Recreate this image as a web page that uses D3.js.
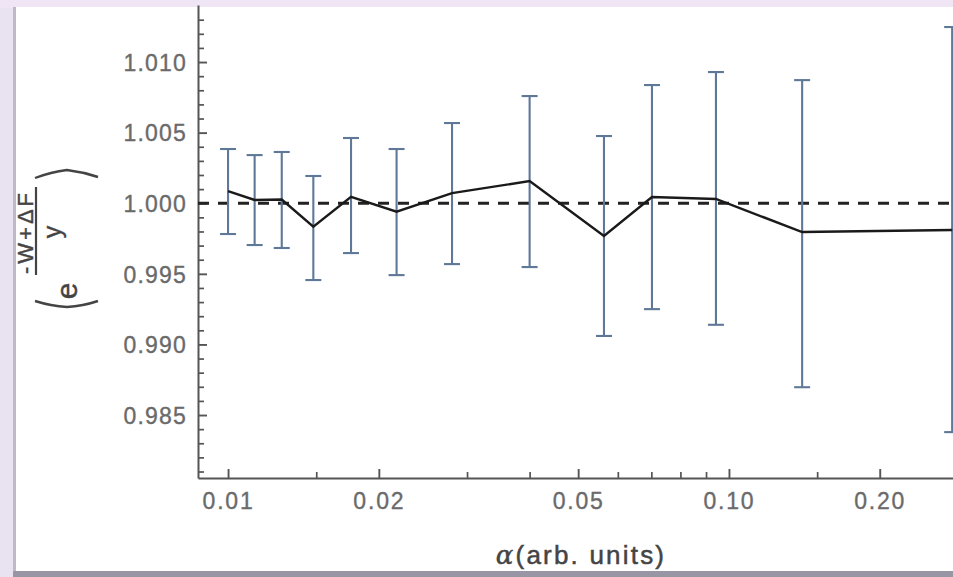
<!DOCTYPE html>
<html><head><meta charset="utf-8">
<script src="https://cdn.jsdelivr.net/npm/d3@7"></script>
<style>
html,body{margin:0;padding:0;background:#ebe5f2;overflow:hidden;}
svg{display:block;}
text{font-family:"Liberation Sans", Arial, sans-serif;}
</style></head><body>
<svg id="chart" width="953" height="577"></svg>
<script>
// ---- data ----
const alphaValues = [0.0100, 0.0113, 0.0128, 0.0148, 0.0176, 0.0217, 0.0280, 0.0400, 0.0563, 0.0702, 0.0942, 0.1400, 0.2790];
const meanValues  = [1.00086, 1.00023, 1.00026, 0.99834, 1.00046, 0.99940, 1.00072, 1.00157, 0.99768, 1.00044, 1.00030, 0.99796, 0.99810];
const upperValues = [1.00384, 1.00341, 1.00363, 1.00193, 1.00462, 1.00384, 1.00568, 1.00759, 1.00476, 1.00837, 1.00929, 1.00872, 1.01248];
const lowerValues = [0.99782, 0.99704, 0.99683, 0.99456, 0.99647, 0.99491, 0.99569, 0.99548, 0.99060, 0.99250, 0.99139, 0.98697, 0.98379];
const referenceLevel = 1.000;

const xTickValues = [0.01, 0.02, 0.05, 0.10, 0.20];
const xTickLabels = ["0.01", "0.02", "0.05", "0.10", "0.20"];
const xMinorTicks = [0.015, 0.03, 0.04, 0.06, 0.07, 0.08, 0.09, 0.15];
const yTickValues = [0.985, 0.990, 0.995, 1.000, 1.005, 1.010];
const yTickLabels = ["0.985", "0.990", "0.995", "1.000", "1.005", "1.010"];
const yMinorTicks = [0.981, 0.982, 0.983, 0.984, 0.986, 0.987, 0.988, 0.989, 0.991, 0.992, 0.993, 0.994,
                     0.996, 0.997, 0.998, 0.999, 1.001, 1.002, 1.003, 1.004, 1.006, 1.007, 1.008, 1.009,
                     1.011, 1.012, 1.013];
const xDomain = [0.00871, 0.2866];
const yDomain = [0.98054, 1.01404];
const xAxisTitle = "(arb. units)";
const xAxisSymbol = "α";

// ---- layout ----
const W = 953, H = 577;
const plot = {left: 198, right: 958, top: 5, bottom: 478};

const svg = d3.select("#chart");

// frame / background imitation
svg.append("rect").attr("x", 0).attr("y", 0).attr("width", W).attr("height", H).attr("fill", "#e9e3f1");
svg.append("rect").attr("x", 0).attr("y", 0).attr("width", W).attr("height", 8).attr("fill", "#efe5f4");
svg.append("rect").attr("x", 13).attr("y", 7).attr("width", W - 13).attr("height", H - 7).attr("fill", "#bdb9c6");
svg.append("rect").attr("x", 16).attr("y", 7).attr("width", W - 16).attr("height", 564).attr("fill", "#ffffff");
svg.append("rect").attr("x", 13).attr("y", 571).attr("width", W - 13).attr("height", 6).attr("fill", "#9896a4");

const x = d3.scaleLog().domain(xDomain).range([plot.left, plot.right]);
const y = d3.scaleLinear().domain(yDomain).range([plot.bottom, plot.top]);

const axisColor = "#555555";
const labelColor = "#6a6a6a";

// Y axis (minor then major)
const gyMinor = svg.append("g").attr("transform", `translate(${plot.left},0)`)
  .call(d3.axisLeft(y).tickValues(yMinorTicks).tickSizeInner(-6).tickSizeOuter(0).tickFormat(""));
gyMinor.select(".domain").remove();
gyMinor.selectAll("line").attr("stroke", axisColor).attr("stroke-width", 1.7);

const gy = svg.append("g").attr("transform", `translate(${plot.left},0)`)
  .call(d3.axisLeft(y).tickValues(yTickValues).tickSizeInner(-9).tickSizeOuter(0).tickPadding(11)
        .tickFormat((d, i) => yTickLabels[i]));
gy.select(".domain").attr("stroke", axisColor).attr("stroke-width", 2);
gy.selectAll("line").attr("stroke", axisColor).attr("stroke-width", 1.9);
gy.selectAll("text").attr("fill", labelColor).attr("stroke", labelColor).attr("stroke-width", 0.35)
  .style("font-size", "23px").style("letter-spacing", "1.2px").attr("dy", "0.36em");

// X axis
const gxMinor = svg.append("g").attr("transform", `translate(0,${plot.bottom})`)
  .call(d3.axisBottom(x).tickValues(xMinorTicks).tickSizeInner(-6).tickSizeOuter(0).tickFormat(""));
gxMinor.select(".domain").remove();
gxMinor.selectAll("line").attr("stroke", axisColor).attr("stroke-width", 1.7);

const gx = svg.append("g").attr("transform", `translate(0,${plot.bottom})`)
  .call(d3.axisBottom(x).tickValues(xTickValues).tickSizeInner(-9).tickSizeOuter(0).tickPadding(15)
        .tickFormat((d, i) => xTickLabels[i]));
gx.select(".domain").attr("stroke", axisColor).attr("stroke-width", 2);
gx.selectAll("line").attr("stroke", axisColor).attr("stroke-width", 1.9);
gx.selectAll("text").attr("fill", labelColor).attr("stroke", labelColor).attr("stroke-width", 0.35)
  .style("font-size", "23px").style("letter-spacing", "1.8px");

// reference dashed line
svg.append("line")
  .attr("x1", plot.left).attr("x2", W)
  .attr("y1", y(referenceLevel)).attr("y2", y(referenceLevel))
  .attr("stroke", "#222222").attr("stroke-width", 2.8).attr("stroke-dasharray", "11,9");

// error bars
const barColor = "#5f7898";
const capHalf = 8;
const bars = svg.append("g").attr("stroke", barColor).attr("stroke-width", 2.1).attr("fill", "none");
alphaValues.forEach((a, i) => {
  const g = bars.append("g");
  g.append("line").attr("x1", x(a)).attr("x2", x(a)).attr("y1", y(lowerValues[i])).attr("y2", y(upperValues[i]));
  g.append("line").attr("x1", x(a) - capHalf).attr("x2", x(a) + capHalf).attr("y1", y(upperValues[i])).attr("y2", y(upperValues[i]));
  g.append("line").attr("x1", x(a) - capHalf).attr("x2", x(a) + capHalf).attr("y1", y(lowerValues[i])).attr("y2", y(lowerValues[i]));
});

// mean line
const pts = alphaValues.map((a, i) => [a, meanValues[i]]);
svg.append("path").datum(pts)
  .attr("d", d3.line().x(d => x(d[0])).y(d => y(d[1])))
  .attr("fill", "none").attr("stroke", "#1a1a1a").attr("stroke-width", 2.4).attr("stroke-linejoin", "miter");

// X axis title
const xt = svg.append("text").attr("x", 581).attr("y", 564).attr("text-anchor", "middle")
  .attr("fill", "#444444").attr("stroke", "#444444").attr("stroke-width", 0.5)
  .style("font-size", "26px").style("letter-spacing", "2.2px");
xt.append("tspan").style("font-style", "italic").style("font-family", "'DejaVu Serif', serif").text(xAxisSymbol);
xt.append("tspan").text(xAxisTitle);

// Y axis title: < e^{(-W+ΔF)/y} >  rotated
const yl = svg.append("g").attr("transform", "translate(0,240) rotate(-90)");
const ylColor = "#444444";
yl.append("text").attr("x", 8).attr("y", 33).attr("text-anchor", "middle").attr("fill", ylColor)
  .attr("stroke", ylColor).attr("stroke-width", 0.4)
  .style("font-size", "22px").style("letter-spacing", "3px").text("-W+ΔF");
yl.append("line").attr("x1", -35).attr("x2", 53).attr("y1", 36).attr("y2", 36)
  .attr("stroke", ylColor).attr("stroke-width", 2.2);
yl.append("text").attr("x", 8).attr("y", 61).attr("text-anchor", "middle").attr("fill", ylColor)
  .attr("stroke", ylColor).attr("stroke-width", 0.4)
  .style("font-size", "25px").text("y");
yl.append("text").attr("x", -51).attr("y", 77).attr("text-anchor", "middle").attr("fill", ylColor)
  .attr("stroke", ylColor).attr("stroke-width", 0.4)
  .style("font-size", "30px").text("e");
// stretched angle brackets
yl.append("path").attr("d", "M -61,35 Q -66,51 -67,67 Q -66,83 -61,98")
  .attr("fill", "none").attr("stroke", ylColor).attr("stroke-width", 2.4);
yl.append("path").attr("d", "M 62,35 Q 68,51 70,67 Q 68,83 63,98")
  .attr("fill", "none").attr("stroke", ylColor).attr("stroke-width", 2.4);
</script>
</body></html>
